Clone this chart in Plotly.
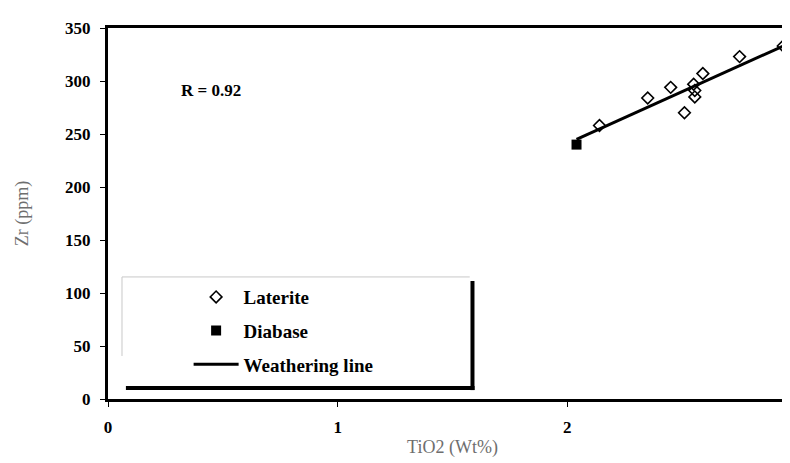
import plotly.graph_objects as go

# laterite samples
lat_tio2 = [2.14, 2.35, 2.45, 2.51, 2.55, 2.555, 2.555, 2.59, 2.75, 2.94]
lat_zr = [258, 284, 294, 270, 297, 291, 285, 307, 323, 333]

# diabase (parent rock)
dia_tio2 = [2.04]
dia_zr = [240]

# weathering line
wl_tio2 = [2.04, 2.95]
wl_zr = [245, 334]

serif = "Liberation Serif"

fig = go.Figure()
fig.add_trace(go.Scatter(x=lat_tio2, y=lat_zr, mode="markers", name="Laterite",
                         legendgroup="a",
                         marker=dict(symbol="diamond-open", size=9, color="black",
                                     line=dict(width=1.6, color="black"))))
fig.add_trace(go.Scatter(x=dia_tio2, y=dia_zr, mode="markers", name="Diabase",
                         legendgroup="b",
                         marker=dict(symbol="square", size=10, color="black")))
fig.add_trace(go.Scatter(x=wl_tio2, y=wl_zr, mode="lines", name="Weathering line",
                         legendgroup="c",
                         line=dict(color="black", width=3)))

fig.add_annotation(x=0.45, y=291, text="<b>R = 0.92</b>", showarrow=False,
                   font=dict(family=serif, size=17, color="black"))

# legend frame: thin grey top/left, heavy black right/bottom
fig.add_shape(type="line", xref="paper", yref="paper", x0=0.0203, x1=0.525, y0=0.329, y1=0.329,
              line=dict(color="#c8c8c8", width=1))
fig.add_shape(type="line", xref="paper", yref="paper", x0=0.0203, x1=0.0203, y0=0.329, y1=0.116,
              line=dict(color="#c8c8c8", width=1))
fig.add_shape(type="line", xref="paper", yref="paper", x0=0.529, x1=0.529, y0=0.318, y1=0.024,
              line=dict(color="black", width=4))
fig.add_shape(type="line", xref="paper", yref="paper", x0=0.026, x1=0.532, y0=0.0297, y1=0.0297,
              line=dict(color="black", width=4))

fig.update_layout(
    width=790, height=463,
    margin=dict(l=100, r=1, t=20, b=72),
    plot_bgcolor="white", paper_bgcolor="white",
    showlegend=True,
    legend=dict(x=0.117, y=0.326, xanchor="left", yanchor="top",
                bgcolor="rgba(0,0,0,0)", tracegroupgap=6, itemwidth=45,
                font=dict(family=serif, size=19, color="black", weight="bold")),
)
fig.update_xaxes(range=[0, 3], tickvals=[0, 1, 2, 3], showgrid=False, zeroline=False,
                 showline=True, mirror=True, linecolor="black", linewidth=3,
                 ticks="outside", ticklen=5, tickcolor="black", tickwidth=1,
                 ticklabelstandoff=6, automargin=False, ticklabeloverflow="allow",
                 tickfont=dict(family=serif, size=17, color="black", weight="bold"),
                 title=dict(text="TiO2 (Wt%)", standoff=4,
                            font=dict(family=serif, size=18, color="#6e6e6e")))
fig.update_yaxes(range=[0, 350], tickvals=list(range(0, 351, 50)), showgrid=False, zeroline=False,
                 showline=True, mirror=True, linecolor="black", linewidth=3,
                 ticks="outside", ticklen=5, tickcolor="black", tickwidth=1,
                 ticklabelstandoff=6, automargin=False,
                 tickfont=dict(family=serif, size=17, color="black", weight="bold"),
                 title=dict(text="Zr (ppm)", standoff=32,
                            font=dict(family=serif, size=18, color="#6e6e6e")))

fig.write_html("out.html")
